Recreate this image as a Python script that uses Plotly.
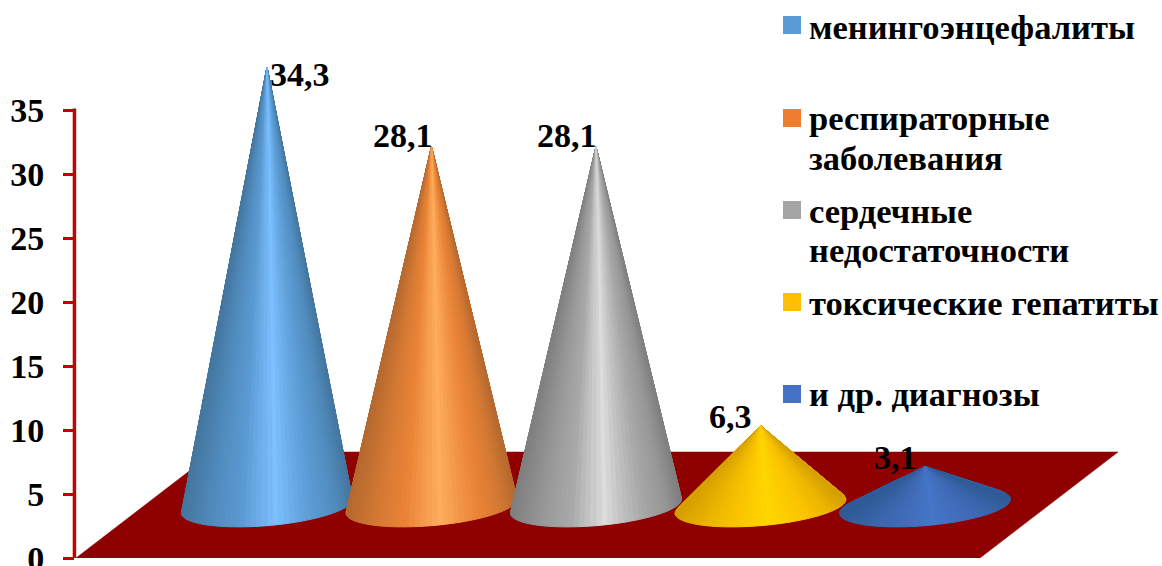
import math
import plotly.graph_objects as go

# Share of diagnoses, one cone per category
categories = ["менингоэнцефалиты", "респираторные<br>заболевания", "сердечные<br>недостаточности",
              "токсические гепатиты", "и др. диагнозы"]
values = [34.3, 28.1, 28.1, 6.3, 3.1]
y_ticks = [0, 5, 10, 15, 20, 25, 30, 35]

# Legend swatch colours and the edge / middle / highlight tones of each cone
swatches = ["#5B9BD5", "#ED7D31", "#A5A5A5", "#FFC000", "#4472C4"]
tones = [
    ("#44769f", "#5a9ad2", "#7cc0ff"),
    ("#b5692f", "#ea8437", "#ffae5e"),
    ("#7f7f7f", "#a8a8a8", "#dcdcdc"),
    ("#d6a100", "#fac400", "#ffd600"),
    ("#2f5c98", "#406cb8", "#4576c8"),
]

W, H = 1162, 566
M_L, M_B = 75, 8
PX_PER_UNIT = 12.8
CONE_STEP = 164.5
FIRST_CENTRE = 267
plot_w, plot_h = W - M_L, H - M_B
x_low = (M_L - FIRST_CENTRE) / CONE_STEP
x_high = (W - FIRST_CENTRE) / CONE_STEP
y_high = plot_h / PX_PER_UNIT

FLOOR_LIFT = 4.05         # base centre height above the zero line, in axis units
BASE_HALF_W = 85.5 / CONE_STEP
BASE_TILT = 7 / PX_PER_UNIT
BASE_DEPTH = 19.5 / PX_PER_UNIT
SLIVERS = 96
FONT = "Liberation Serif"


def to_rgb(h):
    return tuple(int(h[i:i + 2], 16) for i in (1, 3, 5))


def mix(a, b, k):
    return tuple(p + (q - p) * k for p, q in zip(a, b))


def shade(palette, u):
    """Colour of the cone surface at horizontal position u in [-1, 1]."""
    edge, mid, high = (to_rgb(c) for c in palette)
    stops = [(-1.0, edge), (-0.6, mix(edge, mid, 0.65)), (-0.3, mid), (-0.1, mix(mid, high, 0.5)),
             (0.1, high), (0.32, mix(mid, high, 0.45)), (0.55, mid), (0.8, mix(edge, mid, 0.6)), (1.0, edge)]
    for (u0, c0), (u1, c1) in zip(stops, stops[1:]):
        if u <= u1:
            r, g, b = (round(v) for v in mix(c0, c1, (u - u0) / (u1 - u0)))
            return f"rgb({r},{g},{b})"
    return "rgb({},{},{})".format(*edge)


def rim(centre, t):
    return (centre + BASE_HALF_W * math.cos(t),
            FLOOR_LIFT + BASE_TILT * math.cos(t) - BASE_DEPTH * math.sin(t))


fig = go.Figure()

# Dark red floor plane
floor_x = [x_low + 1 / CONE_STEP, (980 - FIRST_CENTRE) / CONE_STEP,
           (1118 - FIRST_CENTRE) / CONE_STEP, (214 - FIRST_CENTRE) / CONE_STEP]
floor_y = [0, 0, 106 / PX_PER_UNIT, 106 / PX_PER_UNIT]
fig.add_trace(go.Scatter(x=floor_x + floor_x[:1], y=floor_y + floor_y[:1], mode="lines", fill="toself",
                         fillcolor="#8F0000", line=dict(color="#8F0000", width=0.5), hoverinfo="skip"))

# Each cone is a fan of thin triangles from the apex to the base rim, back to front
for i, (value, palette) in enumerate(zip(values, tones)):
    apex_y = FLOOR_LIFT + value
    step = 2 * math.pi / SLIVERS
    angles = [step * k for k in range(SLIVERS)]
    for t in sorted(angles, key=lambda a: math.sin(a + step / 2)):
        x0, y0 = rim(i, t)
        x1, y1 = rim(i, t + step)
        colour = shade(palette, math.cos(t + step / 2))
        fig.add_trace(go.Scatter(x=[i, x0, x1, i], y=[apex_y, y0, y1, apex_y], mode="lines", fill="toself",
                                 fillcolor=colour, line=dict(color=colour, width=1), hoverinfo="skip"))

# Value labels next to the apexes
label_offsets = [(2, 7, "left"), (2, -11, "right"), (2, -11, "right"), (-8, -9, "right"), (-7, -9, "right")]
for i, (value, (dx, dy, anchor)) in enumerate(zip(values, label_offsets)):
    fig.add_annotation(x=i, y=FLOOR_LIFT + value, text=f"<b>{str(value).replace('.', ',')}</b>",
                       showarrow=False, xanchor=anchor, yanchor="middle", xshift=dx, yshift=-dy,
                       borderpad=0, font=dict(family=FONT, size=34, color="black"))

# Legend column: swatches and captions, with an explicit row for every caption line
legend_rows = [16, 109, 201, 293, 385]
legend_line_centres = [(27,), (118, 158), (211, 250), (303,), (394,)]
for name, colour, row, centres in zip(categories, swatches, legend_rows, legend_line_centres):
    fig.add_shape(type="rect", xref="paper", yref="paper", line=dict(width=0), fillcolor=colour,
                  x0=(783 - M_L) / plot_w, x1=(801 - M_L) / plot_w,
                  y0=1 - (row + 18) / plot_h, y1=1 - row / plot_h)
    for line, centre in zip(name.split("<br>"), centres):
        fig.add_annotation(xref="paper", yref="paper", x=(808 - M_L) / plot_w, y=1 - centre / plot_h,
                           text=f"<b>{line}</b>", showarrow=False, xanchor="left", yanchor="middle",
                           borderpad=0, font=dict(family=FONT, size=34.5, color="black"))

# Value axis line stops at the top tick
fig.add_shape(type="line", xref="paper", yref="y", x0=-0.0005, x1=-0.0005, y0=-0.12, y1=y_ticks[-1] + 0.12,
              line=dict(color="#C80000", width=3.5))

fig.update_layout(
    width=W, height=H, showlegend=False, paper_bgcolor="white", plot_bgcolor="white",
    margin=dict(l=M_L, r=0, t=0, b=M_B, autoexpand=False),
    xaxis=dict(range=[x_low, x_high], visible=False, fixedrange=True, automargin=False),
    yaxis=dict(range=[0, y_high], tickvals=y_ticks, showgrid=False, zeroline=False, showline=False,
               ticks="outside", ticklen=11, tickwidth=3, tickcolor="#C80000", ticklabelstandoff=12,
               ticklabeloverflow="allow", automargin=False,
               tickfont=dict(family=FONT, size=34, color="black", weight="bold"), fixedrange=True),
)

fig.write_html("out.html", config={"displayModeBar": False})
